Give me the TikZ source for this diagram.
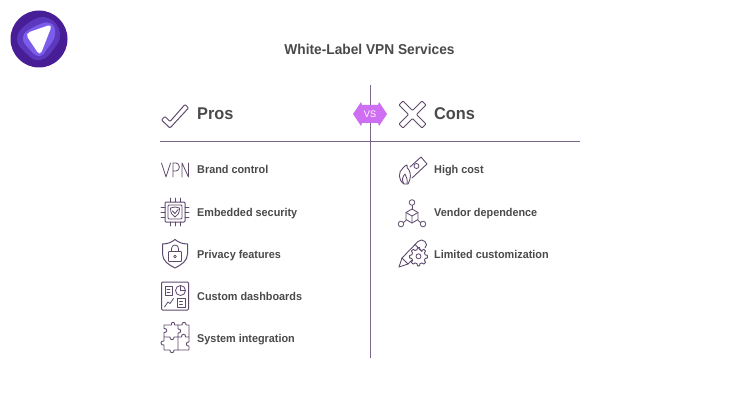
\documentclass[tikz,border=0pt]{standalone}
\usepackage{fontspec}
\setmainfont[FakeStretch=0.96]{Liberation Sans}
\definecolor{ink}{HTML}{4A4A4A}
\definecolor{rule}{HTML}{7A6689}
\definecolor{icon}{HTML}{5F4A6E}
\definecolor{badge}{HTML}{CE6EF2}
\definecolor{logoa}{RGB}{72,30,150}
\definecolor{logob}{RGB}{92,56,190}
\definecolor{logoc}{RGB}{124,92,235}
\tikzset{
 titletext/.style={text=ink,anchor=base,font=\bfseries\fontsize{14.3}{16}\selectfont,inner sep=0pt},
 headtext/.style={text=ink,anchor=base west,font=\bfseries\fontsize{17}{20}\selectfont,inner sep=0pt},
 itemtext/.style={text=ink,anchor=base west,font=\bfseries\fontsize{11.3}{14}\selectfont,inner sep=0pt},
 ic/.style={draw=icon,line width=0.8pt,line join=round,line cap=round},
 ruleline/.style={draw=rule,line width=1pt}
}
\begin{document}
\begin{tikzpicture}[x=1pt,y=-1pt]
\useasboundingbox (0,0) rectangle (740,420);
\fill[white] (0,0) rectangle (740,420);
% logo
\node[circle,fill=logoa,minimum size=57pt,inner sep=0pt] (logoA) at (39,39) {};
\fill[logob] plot[smooth cycle,tension=0.8] coordinates {(17,38) (30,22) (48,18) (60,33) (53,50) (40,60) (27,54)};
\fill[logoc] plot[smooth cycle,tension=0.8] coordinates {(23,37) (34,27) (50,23) (55,35) (47,49) (40,56) (30,50)};
\fill[white,rounded corners=5pt] (25,33.5) -- (52.5,24) -- (40,56) -- cycle;
% rules
\coordinate (vtop) at (370,85);
\coordinate (vbot) at (370,358);
\coordinate (hl) at (160,142);
\coordinate (hr) at (580,142);
\draw[ruleline] (vtop) -- (vbot);
\draw[ruleline] (hl) -- (hr);
% badge
\fill[badge] (353,114) -- (361,102) -- (362,105) -- (378,105) -- (379,102) -- (387,114) -- (379,126) -- (378,123) -- (362,123) -- (361,126) -- cycle;
\node[text=white,font=\fontsize{9.5}{10}\selectfont,inner sep=0pt] (vs) at (370,114) {VS};
% text
\node[titletext] (title) at (369.5,55) {White-Label VPN Services};
\node[headtext] (pros) at (197,120) {Pros};
\node[headtext] (cons) at (434,120) {Cons};
\node[itemtext] (i1) at (197,174) {Brand control};
\node[itemtext] (i2) at (197,216) {Embedded security};
\node[itemtext] (i3) at (197,258) {Privacy features};
\node[itemtext] (i4) at (197,300) {Custom dashboards};
\node[itemtext] (i5) at (197,342) {System integration};
\node[itemtext] (j1) at (434,174) {High cost};
\node[itemtext] (j2) at (434,216) {Vendor dependence};
\node[itemtext] (j3) at (434,258) {Limited customization};
% check
\draw[ic,line width=1pt,rounded corners=1pt] (161.5,120) -- (165,116.5) -- (170,121.5) -- (185,104.5) -- (188.5,108) -- (170,128) -- cycle;
% cross
\draw[ic,line width=1pt,rounded corners=1pt] (399,105) -- (403,101) -- (412.5,110.5) -- (422,101) -- (426,105) -- (416.5,114.5) -- (426,124) -- (422,128) -- (412.5,118.5) -- (403,128) -- (399,124) -- (408.5,114.5) -- cycle;
% VPN
\draw[ic] (161.5,163) -- (166,177) -- (170.5,163);
\draw[ic] (173,177) -- (173,163) -- (176,163) .. controls (180.5,163) and (180.5,171) .. (176,171) -- (173,171);
\draw[ic] (182,177) -- (182,163) -- (188.5,177) -- (188.5,163);
% chip
\draw[ic,line width=1pt,rounded corners=1pt] (165,202) rectangle (185,222);
\draw[ic,rounded corners=1pt] (168,205) rectangle (182,219);
\foreach \p in {170,175,180}{\draw[ic] (\p,198) -- (\p,202);\draw[ic] (\p,222) -- (\p,226);}
\foreach \p in {207,212,217}{\draw[ic] (161,\p) -- (165,\p);\draw[ic] (185,\p) -- (189,\p);}
\draw[ic] (170.5,208) -- (175,207) -- (179.5,208) .. controls (179.5,213) and (178,215.5) .. (175,217) .. controls (172,215.5) and (170.5,213) .. (170.5,208) -- cycle;
\draw[ic] (172.5,211) -- (175,213.5) -- (178,209.5);
% shield
\draw[ic,line width=1pt] (162.5,244) .. controls (168,244) and (172,242) .. (175,239.5) .. controls (178,242) and (182,244) .. (187.5,244) -- (187.5,254) .. controls (187.5,261) and (181,265) .. (175,268) .. controls (169,265) and (162.5,261) .. (162.5,254) -- cycle;
\draw[ic,rounded corners=0.8pt] (168.5,251.5) rectangle (181.5,261.5);
\draw[ic] (171.5,251.5) -- (171.5,248.5) arc[start angle=180,end angle=0,radius=3.5pt] -- (178.5,251.5);
\draw[ic] (175,256.5) circle[radius=1.4pt];
% dashboard
\draw[ic,line width=1pt,rounded corners=1pt] (161.5,282) rectangle (188.5,310);
\draw[ic] (165,286) rectangle (172,295);
\draw[ic] (167,289) -- (170,289) (167,292) -- (170,292);
\draw[ic] (180.5,290.5) circle[radius=5pt];
\draw[ic] (180.5,285.5) -- (180.5,290.5) -- (185.5,290.5);
\draw[ic] (164.5,307) -- (168,302) -- (170,303.5) -- (173.5,298.5);
\draw[ic] (177,298) rectangle (185,307);
\draw[ic] (179.5,301) -- (182.5,301) (179.5,304) -- (182.5,304);
% puzzle: four interlocking pieces
\draw[ic,line width=0.9pt] (164,325) -- (171.5,325) .. controls (170,321.5) and (176,321.5) .. (174.5,325) -- (178,325) -- (178,329) .. controls (181.5,328) and (181.5,334) .. (178,333) -- (178,337) -- (174,337) .. controls (175,340.5) and (169,340.5) .. (170,337) -- (164,337) -- (164,332.5) .. controls (167.5,333.5) and (167.5,327.5) .. (164,328.5) -- cycle;
\draw[ic,line width=0.9pt] (178,325) -- (182,325) .. controls (181,321.5) and (187,321.5) .. (186,325) -- (189,325) -- (189,337) -- (185.5,337) .. controls (186.5,333.5) and (180.5,333.5) .. (181.5,337) -- (178,337);
\draw[ic,line width=0.9pt] (164,337) -- (164,341) .. controls (160,340) and (160,346) .. (164,345) -- (164,350) -- (170,350) .. controls (169,353.5) and (175,353.5) .. (174,350) -- (178,350) -- (178,337);
\draw[ic,line width=0.9pt] (178,350) -- (189,350) -- (189,346) .. controls (185.5,347) and (185.5,341) .. (189,342) -- (189,337);
% high cost
\draw[ic,line width=0.9pt] (410,167) -- (421,157) -- (427,164) -- (412,178);
\draw[ic] (416.5,166) circle[radius=2.5pt];
\draw[ic,line width=0.9pt] (404,184) .. controls (398,180) and (398,172) .. (403,168) .. controls (404,166) and (407,165) .. (407,165) .. controls (407,167) and (407,169) .. (409,170) .. controls (411,173) and (411,179) .. (408,184) -- cycle;
\draw[ic] (404,184) .. controls (401,180) and (403,176) .. (405,174) .. controls (406,177) and (408,179) .. (407,184);
% vendor
\draw[ic] (412,202.5) circle[radius=2.8pt];
\draw[ic] (401,224) circle[radius=2.8pt];
\draw[ic] (423,224) circle[radius=2.8pt];
\draw[ic] (412,205.5) -- (412,209);
\draw[ic] (403.5,222.5) -- (406,220.5);
\draw[ic] (420.5,222.5) -- (418,220.5);
\draw[ic] (412,209) -- (418,212.5) -- (418,219.5) -- (412,223) -- (406,219.5) -- (406,212.5) -- cycle;
\draw[ic] (406,212.5) -- (412,216) -- (418,212.5) (412,216) -- (412,223);
% pencil and gear
\draw[ic,line width=0.9pt] (399,267) -- (402,258) -- (418,241.5) .. controls (420,239.5) and (423,239.5) .. (425,241.5) .. controls (427,243.5) and (427,246) .. (425,248);
\draw[ic,line width=0.9pt] (399,267) -- (408,264) -- (411.5,260.5);
\draw[ic] (402,258) -- (408,264);
\draw[ic] (415,244.5) -- (422,251.5);
\draw[ic,line width=0.9pt] (417.5,247.5) -- ++(2,0) -- ++(.5,2.2) -- ++(2,.8) -- ++(1.8,-1.2) -- ++(1.8,1.8) -- ++(-1.2,1.8) -- ++(.8,2) -- ++(2.2,.5) -- ++(0,2.6) -- ++(-2.2,.5) -- ++(-.8,2) -- ++(1.2,1.8) -- ++(-1.8,1.8) -- ++(-1.8,-1.2) -- ++(-2,.8) -- ++(-.5,2.2) -- ++(-2,0) -- ++(-.5,-2.2) -- ++(-2,-.8) -- ++(-1.8,1.2) -- ++(-1.8,-1.8) -- ++(1.2,-1.8) -- ++(-.8,-2) -- ++(-2.2,-.5) -- ++(0,-2.6) -- ++(2.2,-.5) -- ++(.8,-2) -- ++(-1.2,-1.8) -- ++(1.8,-1.8) -- ++(1.8,1.2) -- ++(2,-.8) -- cycle;
\draw[ic] (418.5,256.3) circle[radius=2.5pt];
\end{tikzpicture}
\end{document}
